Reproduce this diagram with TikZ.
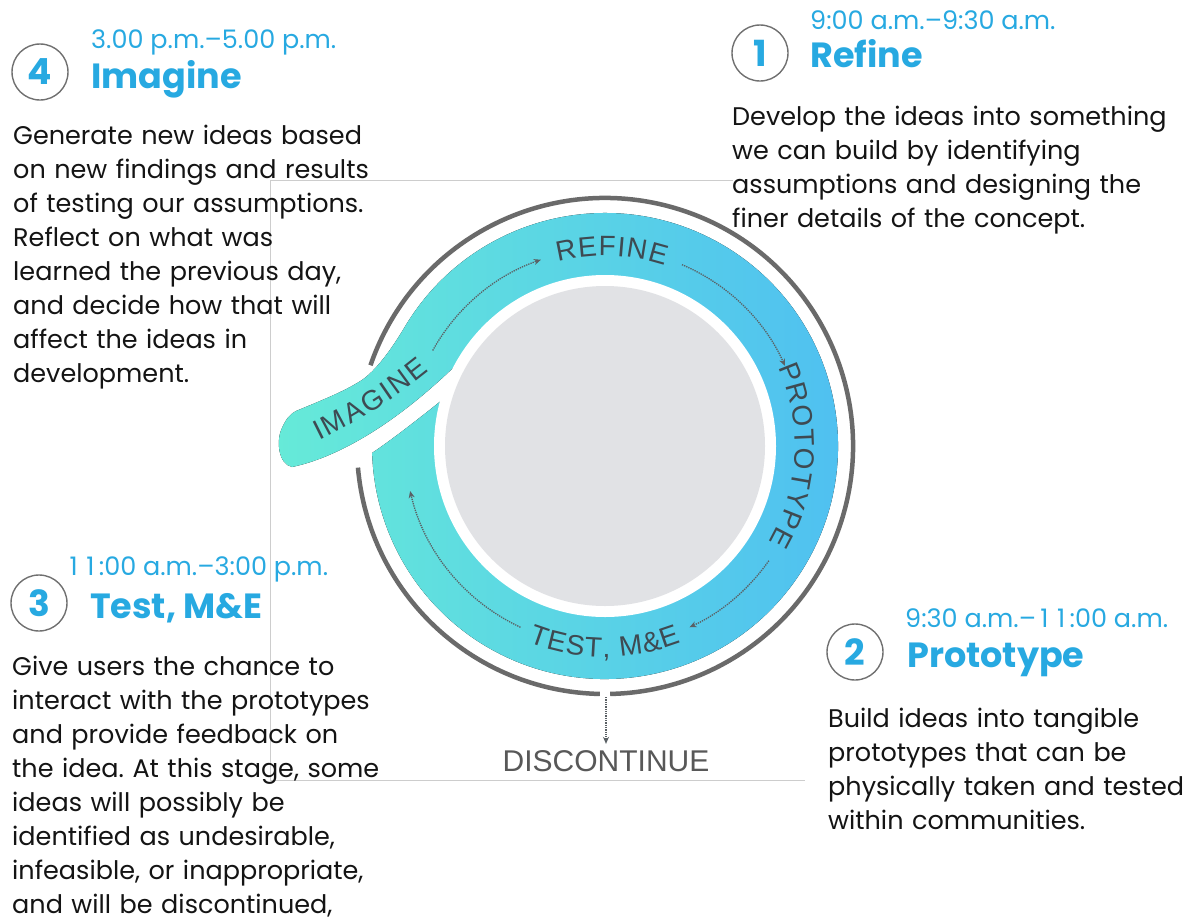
\documentclass[tikz,border=0pt]{standalone}
\usepackage{fontspec}
\setmainfont{Poppins}
\newfontfamily\ringfont{Liberation Sans}
\usetikzlibrary{arrows.meta,calc}
\frenchspacing
\newcommand\wideone{\makebox[0.66em][c]{1}}
\definecolor{headblue}{RGB}{39,169,225}
\definecolor{circgray}{RGB}{112,112,112}
\definecolor{ringtext}{RGB}{62,74,82}
\definecolor{arcgray}{RGB}{106,106,106}
\definecolor{dotgray}{RGB}{90,96,100}
\definecolor{discgray}{RGB}{225,226,229}
\definecolor{framegray}{RGB}{205,205,205}
\definecolor{ringL}{RGB}{102,234,216}
\definecolor{ringR}{RGB}{78,190,242}
\definecolor{disctext}{RGB}{88,88,88}
\definecolor{bodyblack}{RGB}{20,20,20}
\tikzset{
  numcirc/.style={circle, draw=circgray, line width=1.4pt, minimum size=56pt, inner sep=0pt,
    text=headblue, font=\fontsize{36}{36}\selectfont\bfseries},
  timetxt/.style={anchor=base west, inner sep=0pt, text=headblue, font=\fontsize{25.5}{25.5}\selectfont},
  headtxt/.style={anchor=base west, inner sep=0pt, text=headblue, font=\fontsize{35}{35}\selectfont\bfseries},
  bodytxt/.style={anchor=base west, inner sep=0pt, text=bodyblack, font=\fontsize{25.5}{34}\selectfont,
    align=left, text width=460pt},
  dotarrow/.style={densely dotted, line width=1.3pt, draw=dotgray,
    -{Stealth[length=7pt,width=6pt,fill=dotgray]}},
  ringletter/.style={anchor=base, inner sep=0pt, text=ringtext, font=\ringfont\fontsize{28}{28}\selectfont},
}
\begin{document}
\begin{tikzpicture}[x=1pt,y=-1pt]
\useasboundingbox (0,0) rectangle (1186,916);
\fill[white] (0,0) rectangle (1186,916);
\coordinate (ctr) at (605,446);
% frame of the picture
\draw[framegray, line width=1pt] (733,180) -- (270,180) -- (270,780) -- (805,780);
% ring with the imagine tail
\fill[left color=ringL, right color=ringR]
  (292,467) .. controls (278,464) and (276,440) .. (282,428)
  .. controls (286,419) and (290,414) .. (296,411)
  .. controls (325,399) and (345,391) .. (362,380)
  .. controls (375,371) and (390,352) .. (405.3,326)
  arc[start angle=211, end angle=538.3, radius=233]
  .. controls (390,441) and (420,418) .. (452,392)
  -- (ctr) -- (455,366)
  .. controls (392,427) and (335,458) .. (292,467) -- cycle;
\fill[white] (ctr) circle[radius=171];
\fill[discgray] (ctr) circle[radius=160];
% outer gray arcs
\draw[arcgray, line width=4.5pt] ($(ctr)+(199:248)$) arc[start angle=199, end angle=448.8, radius=248];
\draw[arcgray, line width=4.5pt] ($(ctr)+(91.2:248)$) arc[start angle=91.2, end angle=175, radius=248];
% dotted arrows in the ring
\draw[dotarrow] ($(ctr)+(209:197)$) arc[start angle=209, end angle=251, radius=197];
\draw[dotarrow] ($(ctr)+(293:197)$) arc[start angle=293, end angle=336, radius=197];
\draw[dotarrow] ($(ctr)+(35:200)$) arc[start angle=35, end angle=65, radius=200];
\draw[dotarrow] ($(ctr)+(115:200)$) arc[start angle=115, end angle=167, radius=200];
% ring labels
\foreach \a/\l [count=\i, evaluate=\a as \rr using -(\a)-90] in
  {-101.28/R,-95.08/E,-89.35/F,-85.26/I,-80.70/N,-74.49/E}
  \node[ringletter, rotate=\rr] (rf\i) at ($(ctr)+(\a:190)$) {\l};
\foreach \a/\l [count=\i, evaluate=\a as \rr using -(\a)-90] in
  {-21.58/P,-15.37/R,-8.70/O,-2.50/T,3.70/O,9.90/T,15.64/Y,21.61/P,27.58/E}
  \node[ringletter, rotate=\rr] (pt\i) at ($(ctr)+(\a:190)$) {\l};
\foreach \a/\l [count=\i, evaluate=\a as \rr using 90-(\a)] in
  {108.96/T,103.80/E,98.43/S,93.27/T,89.58/{,},82.64/M,76.63/{\&},71.25/E}
  \node[ringletter, rotate=\rr] (ts\i) at ($(ctr)+(\a:211)$) {\l};
\foreach \x/\y/\r/\l [count=\i] in
  {322.9/439.1/26.5/I,338.0/431.3/28.2/M,358.1/420.0/30.5/A,377.4/408.1/32.77/G,
   391.4/398.8/34.45/I,404.5/389.5/36.05/N,421.6/376.6/38.2/E}
  \node[ringletter, rotate=\r] (im\i) at (\x,\y) {\l};
% discontinue
\node[font=\ringfont\fontsize{30}{30}\selectfont, text=disctext, anchor=base, inner sep=3pt] (disc) at (606,771) {DISCONTINUE};
\coordinate (gap) at (606,697);
\draw[dotarrow, shorten >=3pt] (gap) -- (disc.north);
% block 4
\node[numcirc] (n4) at (40,72) {4};
\node[timetxt] (t4) at (91,48) {3.00 p.m.–5.00 p.m.};
\node[headtxt] (h4) at (91,88) {Imagine};
\node[bodytxt] (b4) at (13,144) {Generate new ideas based\\on new findings and results\\of testing our assumptions.\\Reflect on what was\\learned the previous day,\\and decide how that will\\affect the ideas in\\development.};
% block 1
\node[numcirc] (n1) at (760,53) {1};
\node[timetxt] (t1) at (810,29) {9:00 a.m.–9:30 a.m.};
\node[headtxt] (h1) at (810,67) {Refine};
\node[bodytxt] (b1) at (732,125) {Develop the ideas into something\\we can build by identifying\\assumptions and designing the\\finer details of the concept.};
% block 3
\node[numcirc] (n3) at (39,603) {3};
\node[timetxt] (t3) at (65,575) {\wideone\wideone:00 a.m.–3:00 p.m.};
\node[headtxt] (h3) at (90,618) {Test, M\&E};
\node[bodytxt] (b3) at (12,675) {Give users the chance to\\interact with the prototypes\\and provide feedback on\\the idea. At this stage, some\\ideas will possibly be\\identified as undesirable,\\infeasible, or inappropriate,\\and will be discontinued,};
% block 2
\node[numcirc] (n2) at (855,652) {2};
\node[timetxt] (t2) at (905,627) {9:30 a.m.–\wideone\wideone:00 a.m.};
\node[headtxt] (h2) at (907,667) {Prototype};
\node[bodytxt] (b2) at (828,727) {Build ideas into tangible\\prototypes that can be\\physically taken and tested\\within communities.};
\end{tikzpicture}
\end{document}
